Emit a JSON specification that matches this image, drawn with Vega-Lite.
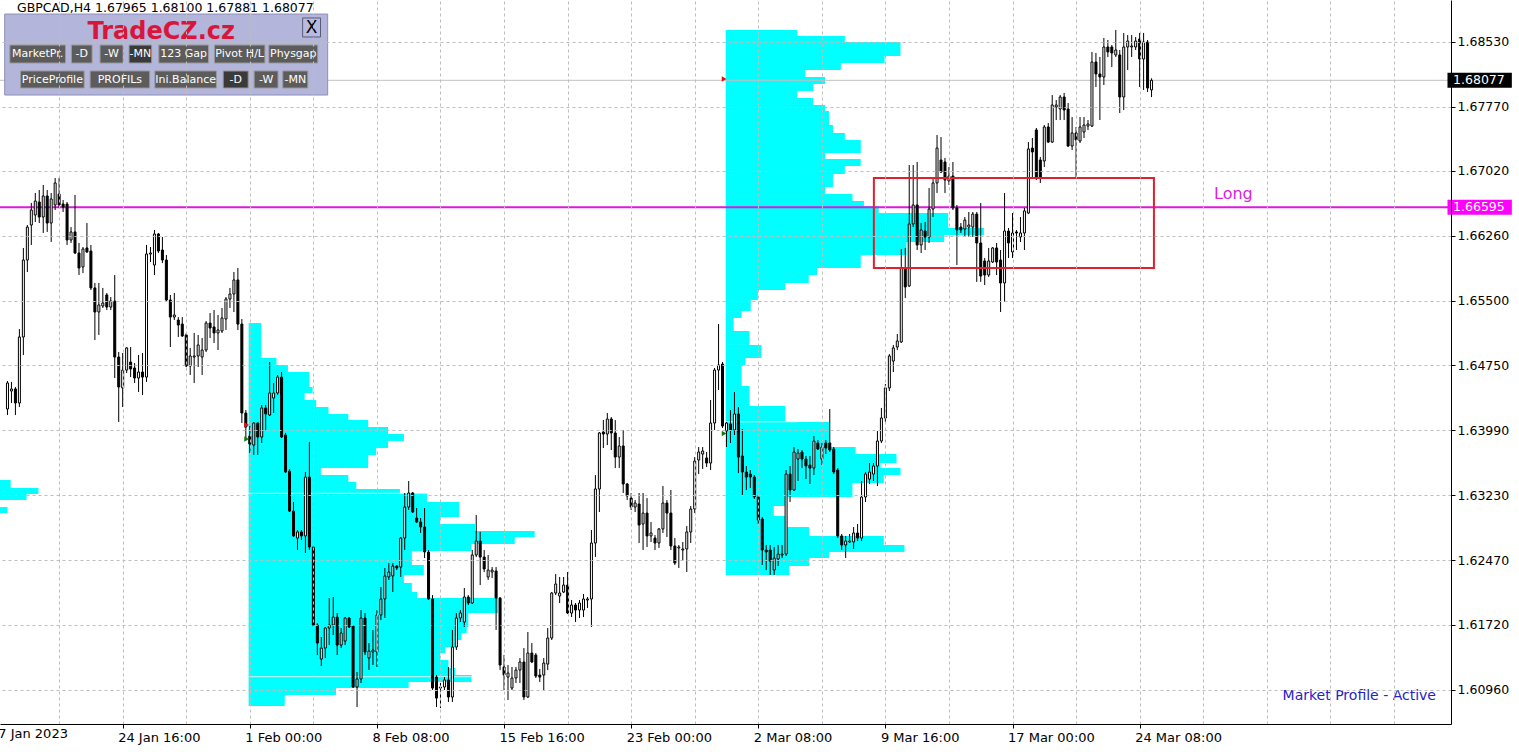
{
"$schema":"https://vega.github.io/schema/vega-lite/v6.json",
"width":1451,"height":724,
"autosize":{"type":"none"},
"padding":{"left":0,"top":0,"right":68,"bottom":30},
"background":"white",
"config":{"view":{"stroke":null},"font":"DejaVu Sans"},
"datasets":{
"candles":[
{"i":0,"o":1.64238,"h":1.64565,"l":1.64168,"c":1.64542},{"i":1,"o":1.64448,"h":1.64554,"l":1.64308,"c":1.64472},{"i":2,"o":1.64472,"h":1.64495,"l":1.64168,"c":1.64308},{"i":3,"o":1.64308,"h":1.65172,"l":1.64261,"c":1.65079},{"i":4,"o":1.65079,"h":1.66119,"l":1.64869,"c":1.65978},{"i":5,"o":1.65978,"h":1.66387,"l":1.65838,"c":1.66363},{"i":6,"o":1.66387,"h":1.66644,"l":1.66154,"c":1.66562},{"i":7,"o":1.66504,"h":1.66761,"l":1.66422,"c":1.66667},{"i":8,"o":1.66656,"h":1.66796,"l":1.6641,"c":1.6648},{"i":9,"o":1.6648,"h":1.66855,"l":1.66294,"c":1.66726},
{"i":10,"o":1.66726,"h":1.66796,"l":1.66306,"c":1.6641},{"i":11,"o":1.6641,"h":1.66761,"l":1.66189,"c":1.66691},{"i":12,"o":1.66621,"h":1.66936,"l":1.66562,"c":1.66878},{"i":13,"o":1.66749,"h":1.66936,"l":1.66586,"c":1.66621},{"i":14,"o":1.66632,"h":1.66679,"l":1.66539,"c":1.66597},{"i":15,"o":1.66632,"h":1.66656,"l":1.66154,"c":1.66212},{"i":16,"o":1.66212,"h":1.66363,"l":1.66177,"c":1.66306},{"i":17,"o":1.66306,"h":1.66738,"l":1.66048,"c":1.6606},{"i":18,"o":1.6606,"h":1.66177,"l":1.65803,"c":1.65885},{"i":19,"o":1.65897,"h":1.6613,"l":1.65826,"c":1.66107},
{"i":20,"o":1.66119,"h":1.6641,"l":1.6606,"c":1.66072},{"i":21,"o":1.66083,"h":1.66154,"l":1.65628,"c":1.65652},{"i":22,"o":1.65652,"h":1.6571,"l":1.65044,"c":1.65371},{"i":23,"o":1.65371,"h":1.6571,"l":1.65103,"c":1.65453},{"i":24,"o":1.65441,"h":1.65652,"l":1.65418,"c":1.65476},{"i":25,"o":1.6557,"h":1.65593,"l":1.65394,"c":1.65429},{"i":26,"o":1.65429,"h":1.65546,"l":1.65394,"c":1.65499},{"i":27,"o":1.65499,"h":1.65803,"l":1.646,"c":1.64845},{"i":28,"o":1.64845,"h":1.64904,"l":1.64086,"c":1.64495},{"i":29,"o":1.64484,"h":1.64892,"l":1.64261,"c":1.64693},
{"i":30,"o":1.64693,"h":1.64962,"l":1.64658,"c":1.64951},{"i":31,"o":1.64787,"h":1.64962,"l":1.64611,"c":1.64705},{"i":32,"o":1.64717,"h":1.64775,"l":1.64542,"c":1.646},{"i":33,"o":1.646,"h":1.64869,"l":1.64437,"c":1.6467},{"i":34,"o":1.6467,"h":1.64892,"l":1.64402,"c":1.64611},{"i":35,"o":1.64611,"h":1.66154,"l":1.64554,"c":1.66048},{"i":36,"o":1.66048,"h":1.6613,"l":1.65955,"c":1.6606},{"i":37,"o":1.6592,"h":1.66329,"l":1.65803,"c":1.66282},{"i":38,"o":1.66282,"h":1.66294,"l":1.6606,"c":1.66083},{"i":39,"o":1.66095,"h":1.66247,"l":1.65943,"c":1.65978},
{"i":40,"o":1.65978,"h":1.66037,"l":1.65488,"c":1.65511},{"i":41,"o":1.65511,"h":1.6557,"l":1.64962,"c":1.65312},{"i":42,"o":1.65312,"h":1.65593,"l":1.65277,"c":1.65336},{"i":43,"o":1.65277,"h":1.65312,"l":1.65079,"c":1.65219},{"i":44,"o":1.6523,"h":1.65312,"l":1.65079,"c":1.65091},{"i":45,"o":1.65103,"h":1.65126,"l":1.64728,"c":1.6474},{"i":46,"o":1.6474,"h":1.64951,"l":1.64635,"c":1.64857},{"i":47,"o":1.64845,"h":1.65126,"l":1.64542,"c":1.64857},{"i":48,"o":1.64857,"h":1.65103,"l":1.64728,"c":1.64986},{"i":49,"o":1.64845,"h":1.65067,"l":1.64635,"c":1.64927},
{"i":50,"o":1.64927,"h":1.65265,"l":1.64904,"c":1.65242},{"i":51,"o":1.65242,"h":1.65359,"l":1.65067,"c":1.65184},{"i":52,"o":1.65196,"h":1.65394,"l":1.65009,"c":1.65126},{"i":53,"o":1.65126,"h":1.65336,"l":1.64927,"c":1.65161},{"i":54,"o":1.65149,"h":1.65418,"l":1.65126,"c":1.65301},{"i":55,"o":1.65289,"h":1.65546,"l":1.65161,"c":1.65523},{"i":56,"o":1.65523,"h":1.65652,"l":1.65418,"c":1.65581},{"i":57,"o":1.65581,"h":1.65838,"l":1.65371,"c":1.65745},{"i":58,"o":1.65745,"h":1.65885,"l":1.65161,"c":1.6523},{"i":59,"o":1.6523,"h":1.65289,"l":1.64074,"c":1.64191},
{"i":60,"o":1.64191,"h":1.64226,"l":1.63876,"c":1.64028},{"i":61,"o":1.63923,"h":1.64039,"l":1.63724,"c":1.63829},{"i":62,"o":1.63817,"h":1.64086,"l":1.63701,"c":1.64074},{"i":63,"o":1.64074,"h":1.64086,"l":1.63701,"c":1.63911},{"i":64,"o":1.63911,"h":1.64285,"l":1.63841,"c":1.6425},{"i":65,"o":1.6425,"h":1.64285,"l":1.63993,"c":1.6418},{"i":66,"o":1.64168,"h":1.64787,"l":1.64156,"c":1.64425},{"i":67,"o":1.64366,"h":1.64542,"l":1.64191,"c":1.64425},{"i":68,"o":1.64425,"h":1.64635,"l":1.64402,"c":1.64611},{"i":69,"o":1.64611,"h":1.6467,"l":1.63899,"c":1.63911},
{"i":70,"o":1.63934,"h":1.63958,"l":1.6349,"c":1.63502},{"i":71,"o":1.63513,"h":1.63537,"l":1.63035,"c":1.63046},{"i":72,"o":1.63046,"h":1.63152,"l":1.62743,"c":1.62755},{"i":73,"o":1.62731,"h":1.62825,"l":1.62591,"c":1.62802},{"i":74,"o":1.62802,"h":1.62825,"l":1.62708,"c":1.62755},{"i":75,"o":1.62755,"h":1.63502,"l":1.62556,"c":1.63443},{"i":76,"o":1.63443,"h":1.63852,"l":1.62591,"c":1.62626},{"i":77,"o":1.62626,"h":1.62626,"l":1.61692,"c":1.61715},{"i":78,"o":1.61715,"h":1.61738,"l":1.61364,"c":1.61505},{"i":79,"o":1.61318,"h":1.61575,"l":1.61236,"c":1.61446},
{"i":80,"o":1.61446,"h":1.61692,"l":1.61329,"c":1.6168},{"i":81,"o":1.6168,"h":1.6203,"l":1.61481,"c":1.61715},{"i":82,"o":1.61715,"h":1.62042,"l":1.61598,"c":1.61808},{"i":83,"o":1.61808,"h":1.61855,"l":1.61364,"c":1.61481},{"i":84,"o":1.61481,"h":1.6168,"l":1.61446,"c":1.61622},{"i":85,"o":1.61528,"h":1.61808,"l":1.61481,"c":1.61797},{"i":86,"o":1.61797,"h":1.61808,"l":1.6168,"c":1.61692},{"i":87,"o":1.61703,"h":1.61715,"l":1.60979,"c":1.60991},{"i":88,"o":1.60991,"h":1.61166,"l":1.60757,"c":1.61084},{"i":89,"o":1.61084,"h":1.6189,"l":1.61038,"c":1.61797},
{"i":90,"o":1.61797,"h":1.61855,"l":1.61364,"c":1.614},{"i":91,"o":1.61329,"h":1.61505,"l":1.61189,"c":1.61411},{"i":92,"o":1.614,"h":1.61657,"l":1.61248,"c":1.61423},{"i":93,"o":1.614,"h":1.6189,"l":1.61225,"c":1.61832},{"i":94,"o":1.61832,"h":1.62159,"l":1.61773,"c":1.62019},{"i":95,"o":1.62019,"h":1.62381,"l":1.61797,"c":1.62288},{"i":96,"o":1.62276,"h":1.62439,"l":1.62241,"c":1.62334},{"i":97,"o":1.62288,"h":1.62439,"l":1.621,"c":1.62404},{"i":98,"o":1.62404,"h":1.62416,"l":1.62357,"c":1.62381},{"i":99,"o":1.62392,"h":1.62743,"l":1.62276,"c":1.62731},
{"i":100,"o":1.62731,"h":1.63257,"l":1.62591,"c":1.63093},{"i":101,"o":1.63093,"h":1.63397,"l":1.63058,"c":1.63257},{"i":102,"o":1.63257,"h":1.63269,"l":1.63023,"c":1.63035},{"i":103,"o":1.62965,"h":1.63082,"l":1.62906,"c":1.62918},{"i":104,"o":1.62918,"h":1.62965,"l":1.6279,"c":1.6286},{"i":105,"o":1.6286,"h":1.63082,"l":1.62497,"c":1.62568},{"i":106,"o":1.62568,"h":1.62591,"l":1.62007,"c":1.62019},{"i":107,"o":1.62019,"h":1.62065,"l":1.60956,"c":1.60979},{"i":108,"o":1.61107,"h":1.61131,"l":1.60757,"c":1.60862},{"i":109,"o":1.60979,"h":1.61038,"l":1.60745,"c":1.60991},
{"i":110,"o":1.60991,"h":1.61107,"l":1.60956,"c":1.61073},{"i":111,"o":1.61073,"h":1.61225,"l":1.60816,"c":1.60874},{"i":112,"o":1.60874,"h":1.61657,"l":1.60816,"c":1.61458},{"i":113,"o":1.61458,"h":1.61855,"l":1.61423,"c":1.61797},{"i":114,"o":1.61797,"h":1.6189,"l":1.6175,"c":1.61855},{"i":115,"o":1.6175,"h":1.62147,"l":1.61692,"c":1.62042},{"i":116,"o":1.62042,"h":1.62065,"l":1.61949,"c":1.61972},{"i":117,"o":1.61972,"h":1.62591,"l":1.6196,"c":1.62533},{"i":118,"o":1.62533,"h":1.63,"l":1.62509,"c":1.62696},{"i":119,"o":1.62696,"h":1.62802,"l":1.62182,"c":1.62509},
{"i":120,"o":1.62509,"h":1.62591,"l":1.62334,"c":1.62369},{"i":121,"o":1.62276,"h":1.62533,"l":1.62241,"c":1.62357},{"i":122,"o":1.62334,"h":1.62392,"l":1.62264,"c":1.62357},{"i":123,"o":1.62346,"h":1.62392,"l":1.61657,"c":1.6203},{"i":124,"o":1.6203,"h":1.62042,"l":1.61189,"c":1.61248},{"i":125,"o":1.61225,"h":1.61364,"l":1.60956,"c":1.61131},{"i":126,"o":1.61107,"h":1.61248,"l":1.60839,"c":1.61154},{"i":127,"o":1.60979,"h":1.61225,"l":1.60956,"c":1.61096},{"i":128,"o":1.61096,"h":1.61225,"l":1.61038,"c":1.61189},{"i":129,"o":1.61189,"h":1.61329,"l":1.61038,"c":1.61283},
{"i":130,"o":1.61283,"h":1.61446,"l":1.60839,"c":1.60874},{"i":131,"o":1.60874,"h":1.61633,"l":1.60862,"c":1.61388},{"i":132,"o":1.61388,"h":1.61505,"l":1.61271,"c":1.61283},{"i":133,"o":1.61364,"h":1.61388,"l":1.61096,"c":1.61119},{"i":134,"o":1.61131,"h":1.61201,"l":1.61049,"c":1.61107},{"i":135,"o":1.61131,"h":1.61329,"l":1.60956,"c":1.61271},{"i":136,"o":1.61259,"h":1.6168,"l":1.61189,"c":1.61563},{"i":137,"o":1.61563,"h":1.621,"l":1.6154,"c":1.62089},{"i":138,"o":1.62089,"h":1.62311,"l":1.62065,"c":1.62194},{"i":139,"o":1.62054,"h":1.62276,"l":1.61972,"c":1.62089},
{"i":140,"o":1.621,"h":1.62276,"l":1.62089,"c":1.62182},{"i":141,"o":1.62182,"h":1.62334,"l":1.61843,"c":1.61855},{"i":142,"o":1.61855,"h":1.62007,"l":1.61808,"c":1.61949},{"i":143,"o":1.61949,"h":1.61972,"l":1.6175,"c":1.6189},{"i":144,"o":1.6189,"h":1.62007,"l":1.61797,"c":1.61972},{"i":145,"o":1.6189,"h":1.62077,"l":1.61808,"c":1.62019},{"i":146,"o":1.62007,"h":1.62042,"l":1.61914,"c":1.62019},{"i":147,"o":1.62019,"h":1.62825,"l":1.61692,"c":1.62673},{"i":148,"o":1.62673,"h":1.63467,"l":1.62509,"c":1.63304},{"i":149,"o":1.63304,"h":1.63969,"l":1.63035,"c":1.63958},
{"i":150,"o":1.63969,"h":1.64109,"l":1.63782,"c":1.63946},{"i":151,"o":1.63946,"h":1.64191,"l":1.63817,"c":1.64121},{"i":152,"o":1.64121,"h":1.64144,"l":1.63759,"c":1.63958},{"i":153,"o":1.63958,"h":1.64109,"l":1.63548,"c":1.63677},{"i":154,"o":1.63677,"h":1.63911,"l":1.63548,"c":1.63806},{"i":155,"o":1.63806,"h":1.63993,"l":1.63257,"c":1.63362},{"i":156,"o":1.63362,"h":1.63374,"l":1.63175,"c":1.63222},{"i":157,"o":1.63198,"h":1.63257,"l":1.63058,"c":1.63093},{"i":158,"o":1.63093,"h":1.63175,"l":1.63035,"c":1.6314},{"i":159,"o":1.63128,"h":1.63257,"l":1.62673,"c":1.62883},
{"i":160,"o":1.62895,"h":1.63257,"l":1.62591,"c":1.63023},{"i":161,"o":1.63023,"h":1.63198,"l":1.62626,"c":1.62755},{"i":162,"o":1.62755,"h":1.62918,"l":1.62685,"c":1.6279},{"i":163,"o":1.62731,"h":1.62766,"l":1.62591,"c":1.62673},{"i":164,"o":1.62673,"h":1.62848,"l":1.62615,"c":1.62837},{"i":165,"o":1.62837,"h":1.63339,"l":1.6279,"c":1.6314},{"i":166,"o":1.6314,"h":1.63175,"l":1.62743,"c":1.63023},{"i":167,"o":1.63023,"h":1.63292,"l":1.62591,"c":1.62638},{"i":168,"o":1.62638,"h":1.62731,"l":1.62416,"c":1.62439},{"i":169,"o":1.62615,"h":1.6265,"l":1.62381,"c":1.62626},
{"i":170,"o":1.62591,"h":1.62685,"l":1.62474,"c":1.62603},{"i":171,"o":1.62603,"h":1.62871,"l":1.62334,"c":1.62802},{"i":172,"o":1.62802,"h":1.63105,"l":1.62673,"c":1.6307},{"i":173,"o":1.6307,"h":1.63677,"l":1.63023,"c":1.6363},{"i":174,"o":1.63642,"h":1.63794,"l":1.63478,"c":1.63736},{"i":175,"o":1.63712,"h":1.63794,"l":1.63537,"c":1.63747},{"i":176,"o":1.63666,"h":1.63736,"l":1.6356,"c":1.63607},{"i":177,"o":1.63607,"h":1.64343,"l":1.63525,"c":1.64074},{"i":178,"o":1.64074,"h":1.64717,"l":1.63993,"c":1.64693},{"i":179,"o":1.64693,"h":1.6523,"l":1.6446,"c":1.64752},
{"i":180,"o":1.64763,"h":1.64787,"l":1.64016,"c":1.64039},{"i":181,"o":1.63981,"h":1.64086,"l":1.63794,"c":1.64074},{"i":182,"o":1.64063,"h":1.64226,"l":1.63841,"c":1.63993},{"i":183,"o":1.63993,"h":1.64437,"l":1.63934,"c":1.6418},{"i":184,"o":1.6418,"h":1.64261,"l":1.6349,"c":1.63677},{"i":185,"o":1.63689,"h":1.64004,"l":1.63233,"c":1.63502},{"i":186,"o":1.63502,"h":1.63572,"l":1.63292,"c":1.63443},{"i":187,"o":1.63478,"h":1.63525,"l":1.63315,"c":1.63443},{"i":188,"o":1.63443,"h":1.63467,"l":1.63187,"c":1.6321},{"i":189,"o":1.6321,"h":1.63233,"l":1.62895,"c":1.62941},
{"i":190,"o":1.62953,"h":1.62976,"l":1.62416,"c":1.62591},{"i":191,"o":1.62591,"h":1.6265,"l":1.62357,"c":1.62568},{"i":192,"o":1.62591,"h":1.6265,"l":1.62299,"c":1.62462},{"i":193,"o":1.62357,"h":1.62626,"l":1.62299,"c":1.62497},{"i":194,"o":1.62486,"h":1.6265,"l":1.62404,"c":1.62544},{"i":195,"o":1.62533,"h":1.6265,"l":1.62497,"c":1.62544},{"i":196,"o":1.62544,"h":1.63525,"l":1.62521,"c":1.63478},{"i":197,"o":1.63478,"h":1.63572,"l":1.63152,"c":1.63292},{"i":198,"o":1.63292,"h":1.63794,"l":1.6328,"c":1.63736},{"i":199,"o":1.63654,"h":1.63771,"l":1.63397,"c":1.63724},
{"i":200,"o":1.63736,"h":1.63759,"l":1.63548,"c":1.63654},{"i":201,"o":1.63654,"h":1.63689,"l":1.6342,"c":1.63572},{"i":202,"o":1.63584,"h":1.63689,"l":1.63362,"c":1.63548},{"i":203,"o":1.63548,"h":1.63923,"l":1.63467,"c":1.63864},{"i":204,"o":1.63841,"h":1.63876,"l":1.63759,"c":1.63771},{"i":205,"o":1.63654,"h":1.63841,"l":1.63584,"c":1.63794},{"i":206,"o":1.63841,"h":1.63876,"l":1.63712,"c":1.63782},{"i":207,"o":1.63841,"h":1.64238,"l":1.63736,"c":1.63759},{"i":208,"o":1.63771,"h":1.63794,"l":1.63478,"c":1.63502},{"i":209,"o":1.63525,"h":1.63548,"l":1.62731,"c":1.62755},
{"i":210,"o":1.62755,"h":1.62778,"l":1.62591,"c":1.6265},{"i":211,"o":1.6265,"h":1.62755,"l":1.62497,"c":1.62696},{"i":212,"o":1.62685,"h":1.62778,"l":1.62673,"c":1.62696},{"i":213,"o":1.62685,"h":1.6286,"l":1.62603,"c":1.6279},{"i":214,"o":1.6279,"h":1.62895,"l":1.62696,"c":1.62731},{"i":215,"o":1.62731,"h":1.63397,"l":1.62696,"c":1.6321},{"i":216,"o":1.6321,"h":1.63502,"l":1.63152,"c":1.63478},{"i":217,"o":1.6342,"h":1.63607,"l":1.63362,"c":1.63502},{"i":218,"o":1.63478,"h":1.63607,"l":1.63397,"c":1.63572},{"i":219,"o":1.63572,"h":1.63981,"l":1.63339,"c":1.63864},
{"i":220,"o":1.63864,"h":1.6425,"l":1.63841,"c":1.64133},{"i":221,"o":1.64133,"h":1.6453,"l":1.64086,"c":1.64484},{"i":222,"o":1.64484,"h":1.6488,"l":1.64448,"c":1.64857},{"i":223,"o":1.64798,"h":1.64986,"l":1.6467,"c":1.64951},{"i":224,"o":1.64962,"h":1.65114,"l":1.64927,"c":1.65032},{"i":225,"o":1.65021,"h":1.66107,"l":1.65009,"c":1.65885},{"i":226,"o":1.65885,"h":1.66119,"l":1.65534,"c":1.65663},{"i":227,"o":1.65675,"h":1.67088,"l":1.65663,"c":1.66399},{"i":228,"o":1.66399,"h":1.67088,"l":1.66363,"c":1.66621},{"i":229,"o":1.66621,"h":1.67123,"l":1.66095,"c":1.66154},
{"i":230,"o":1.66154,"h":1.6641,"l":1.6606,"c":1.66329},{"i":231,"o":1.66317,"h":1.66422,"l":1.66095,"c":1.66247},{"i":232,"o":1.66247,"h":1.66819,"l":1.66177,"c":1.66574},{"i":233,"o":1.66574,"h":1.66936,"l":1.6648,"c":1.66878},{"i":234,"o":1.66878,"h":1.67438,"l":1.66761,"c":1.67286},{"i":235,"o":1.67146,"h":1.67415,"l":1.66994,"c":1.67006},{"i":236,"o":1.67123,"h":1.6717,"l":1.66761,"c":1.66913},{"i":237,"o":1.66901,"h":1.67064,"l":1.66855,"c":1.66959},{"i":238,"o":1.66959,"h":1.67123,"l":1.66562,"c":1.66586},{"i":239,"o":1.66586,"h":1.66621,"l":1.6592,"c":1.66329},
{"i":240,"o":1.66363,"h":1.6641,"l":1.66294,"c":1.66329},{"i":241,"o":1.6634,"h":1.6648,"l":1.66247,"c":1.66445},{"i":242,"o":1.66363,"h":1.66539,"l":1.66247,"c":1.66387},{"i":243,"o":1.66363,"h":1.66539,"l":1.66247,"c":1.66515},{"i":244,"o":1.66515,"h":1.66539,"l":1.65722,"c":1.66177},{"i":245,"o":1.66177,"h":1.66644,"l":1.65722,"c":1.65791},{"i":246,"o":1.65967,"h":1.66002,"l":1.65686,"c":1.65803},{"i":247,"o":1.65803,"h":1.66119,"l":1.6578,"c":1.65967},{"i":248,"o":1.65955,"h":1.6613,"l":1.65943,"c":1.66119},{"i":249,"o":1.66119,"h":1.66177,"l":1.65803,"c":1.65955},
{"i":250,"o":1.65978,"h":1.66095,"l":1.65371,"c":1.6571},{"i":251,"o":1.6571,"h":1.66761,"l":1.65488,"c":1.66317},{"i":252,"o":1.66317,"h":1.66352,"l":1.66002,"c":1.66177},{"i":253,"o":1.66072,"h":1.66527,"l":1.66002,"c":1.66294},{"i":254,"o":1.66306,"h":1.66329,"l":1.66095,"c":1.66294},{"i":255,"o":1.66247,"h":1.6648,"l":1.66189,"c":1.66294},{"i":256,"o":1.66294,"h":1.66586,"l":1.66095,"c":1.66551},{"i":257,"o":1.66527,"h":1.67356,"l":1.66515,"c":1.67275},{"i":258,"o":1.67286,"h":1.67403,"l":1.66948,"c":1.6724},{"i":259,"o":1.67497,"h":1.6752,"l":1.66913,"c":1.66948},
{"i":260,"o":1.67146,"h":1.67181,"l":1.66878,"c":1.66948},{"i":261,"o":1.67135,"h":1.67555,"l":1.67064,"c":1.67532},{"i":262,"o":1.67532,"h":1.67578,"l":1.67345,"c":1.67356},{"i":263,"o":1.67356,"h":1.67905,"l":1.67345,"c":1.67789},{"i":264,"o":1.67765,"h":1.67847,"l":1.67613,"c":1.67789},{"i":265,"o":1.67742,"h":1.67905,"l":1.67613,"c":1.67882},{"i":266,"o":1.67882,"h":1.67929,"l":1.67613,"c":1.6773},{"i":267,"o":1.67742,"h":1.67812,"l":1.67298,"c":1.6731},{"i":268,"o":1.6731,"h":1.67648,"l":1.67263,"c":1.67462},{"i":269,"o":1.67462,"h":1.67532,"l":1.66948,"c":1.6738},
{"i":270,"o":1.67368,"h":1.67648,"l":1.67345,"c":1.67532},{"i":271,"o":1.67473,"h":1.67648,"l":1.67403,"c":1.67555},{"i":272,"o":1.67543,"h":1.67613,"l":1.67497,"c":1.67567},{"i":273,"o":1.67543,"h":1.68408,"l":1.67532,"c":1.68291},{"i":274,"o":1.68291,"h":1.68396,"l":1.67999,"c":1.68151},{"i":275,"o":1.68151,"h":1.68349,"l":1.67613,"c":1.68116},{"i":276,"o":1.68116,"h":1.68571,"l":1.68022,"c":1.68466},{"i":277,"o":1.68466,"h":1.68548,"l":1.68349,"c":1.68408},{"i":278,"o":1.68466,"h":1.68489,"l":1.68232,"c":1.68396},{"i":279,"o":1.68373,"h":1.68665,"l":1.68349,"c":1.68431},
{"i":280,"o":1.68373,"h":1.68431,"l":1.67695,"c":1.67882},{"i":281,"o":1.67882,"h":1.6863,"l":1.6773,"c":1.68466},{"i":282,"o":1.68466,"h":1.68606,"l":1.68197,"c":1.68536},{"i":283,"o":1.68466,"h":1.68606,"l":1.68349,"c":1.68478},{"i":284,"o":1.68466,"h":1.68583,"l":1.68431,"c":1.68536},{"i":285,"o":1.6856,"h":1.6863,"l":1.67999,"c":1.68326},{"i":286,"o":1.68326,"h":1.6863,"l":1.67964,"c":1.68524},{"i":287,"o":1.68524,"h":1.68548,"l":1.6794,"c":1.67987},{"i":288,"o":1.67965,"h":1.681,"l":1.67881,"c":1.68077}
],
"profiles":[
{"s":-3,"e":0.8,"lo":1.63315,"hi":1.63409},{"s":-3,"e":7.8,"lo":1.63245,"hi":1.63315},{"s":-3,"e":4.8,"lo":1.63175,"hi":1.63245},{"s":-3,"e":0,"lo":1.63023,"hi":1.63093},
{"s":60.7,"e":63.9,"lo":1.64834,"hi":1.65242},{"s":60.7,"e":67.7,"lo":1.64752,"hi":1.64834},{"s":60.7,"e":70.6,"lo":1.6467,"hi":1.64752},{"s":60.7,"e":76.0,"lo":1.64495,"hi":1.6467},{"s":60.7,"e":76.8,"lo":1.64425,"hi":1.64495},{"s":60.7,"e":74.8,"lo":1.64343,"hi":1.64425},{"s":60.7,"e":77.7,"lo":1.64261,"hi":1.64343},{"s":60.7,"e":80.8,"lo":1.6418,"hi":1.64261},{"s":60.7,"e":85.8,"lo":1.64109,"hi":1.6418},{"s":60.7,"e":90.8,"lo":1.64028,"hi":1.64109},{"s":60.7,"e":95.8,"lo":1.63946,"hi":1.64028},{"s":60.7,"e":99.8,"lo":1.63864,"hi":1.63946},{"s":60.7,"e":95.8,"lo":1.63782,"hi":1.63864},{"s":60.7,"e":92.8,"lo":1.63701,"hi":1.63782},{"s":60.7,"e":90.8,"lo":1.63548,"hi":1.63701},{"s":60.7,"e":78.9,"lo":1.63467,"hi":1.63548},{"s":60.7,"e":85.8,"lo":1.63385,"hi":1.63467},{"s":60.7,"e":87.8,"lo":1.63304,"hi":1.63385},{"s":60.7,"e":98.8,"lo":1.63257,"hi":1.63304},{"s":60.7,"e":105.6,"lo":1.63152,"hi":1.63257},{"s":60.7,"e":113.7,"lo":1.62976,"hi":1.63152},{"s":60.7,"e":108.9,"lo":1.62895,"hi":1.62976},{"s":60.7,"e":117.7,"lo":1.62813,"hi":1.62895},{"s":60.7,"e":132.7,"lo":1.62743,"hi":1.62813},{"s":60.7,"e":127.7,"lo":1.62661,"hi":1.62743},{"s":60.7,"e":116.8,"lo":1.62579,"hi":1.62661},{"s":60.7,"e":101.8,"lo":1.62416,"hi":1.62579},{"s":60.7,"e":104.8,"lo":1.62299,"hi":1.62416},{"s":60.7,"e":99.8,"lo":1.62206,"hi":1.62299},{"s":60.7,"e":101.8,"lo":1.621,"hi":1.62206},{"s":60.7,"e":103.1,"lo":1.6203,"hi":1.621},{"s":60.7,"e":123.5,"lo":1.61855,"hi":1.6203},{"s":60.7,"e":116.0,"lo":1.61692,"hi":1.61855},{"s":60.7,"e":115.6,"lo":1.61622,"hi":1.61692},{"s":60.7,"e":114.3,"lo":1.6154,"hi":1.61622},{"s":60.7,"e":112.7,"lo":1.61458,"hi":1.6154},{"s":60.7,"e":110.2,"lo":1.61388,"hi":1.61458},{"s":60.7,"e":108.9,"lo":1.61306,"hi":1.61388},{"s":60.7,"e":111.0,"lo":1.61213,"hi":1.61306},{"s":60.7,"e":112.7,"lo":1.61131,"hi":1.61213},{"s":60.7,"e":116.8,"lo":1.61049,"hi":1.61131},{"s":60.7,"e":101.0,"lo":1.60979,"hi":1.61049},{"s":60.7,"e":82.7,"lo":1.60897,"hi":1.60979},{"s":60.7,"e":69.8,"lo":1.60769,"hi":1.60897},
{"s":180.8,"e":198.8,"lo":1.68595,"hi":1.68665},{"s":180.8,"e":210.8,"lo":1.68524,"hi":1.68595},{"s":180.8,"e":224.8,"lo":1.68361,"hi":1.68524},{"s":180.8,"e":220.8,"lo":1.68279,"hi":1.68361},{"s":180.8,"e":209.8,"lo":1.68197,"hi":1.68279},{"s":180.8,"e":200.8,"lo":1.68116,"hi":1.68197},{"s":180.8,"e":205.8,"lo":1.68034,"hi":1.68116},{"s":180.8,"e":202.8,"lo":1.67952,"hi":1.68034},{"s":180.8,"e":198.8,"lo":1.6787,"hi":1.67952},{"s":180.8,"e":202.8,"lo":1.67789,"hi":1.6787},{"s":180.8,"e":205.8,"lo":1.67719,"hi":1.67789},{"s":180.8,"e":206.8,"lo":1.67555,"hi":1.67719},{"s":180.8,"e":207.8,"lo":1.67462,"hi":1.67555},{"s":180.8,"e":210.8,"lo":1.6738,"hi":1.67462},{"s":180.8,"e":214.8,"lo":1.67228,"hi":1.6738},{"s":180.8,"e":205.8,"lo":1.67158,"hi":1.67228},{"s":180.8,"e":214.8,"lo":1.67076,"hi":1.67158},{"s":180.8,"e":210.8,"lo":1.66983,"hi":1.67076},{"s":180.8,"e":207.8,"lo":1.66831,"hi":1.66983},{"s":180.8,"e":205.8,"lo":1.66749,"hi":1.66831},{"s":180.8,"e":212.7,"lo":1.66667,"hi":1.66749},{"s":180.8,"e":215.6,"lo":1.66609,"hi":1.66667},{"s":180.8,"e":219.3,"lo":1.66527,"hi":1.66609},{"s":180.8,"e":236.8,"lo":1.66352,"hi":1.66527},{"s":180.8,"e":245.8,"lo":1.6627,"hi":1.66352},{"s":180.8,"e":235.8,"lo":1.66189,"hi":1.6627},{"s":180.8,"e":226.3,"lo":1.66037,"hi":1.66189},{"s":180.8,"e":214.8,"lo":1.65885,"hi":1.66037},{"s":180.8,"e":203.8,"lo":1.65803,"hi":1.65885},{"s":180.8,"e":201.7,"lo":1.6571,"hi":1.65803},{"s":180.8,"e":195.8,"lo":1.65628,"hi":1.6571},{"s":180.8,"e":188.9,"lo":1.65511,"hi":1.65628},{"s":180.8,"e":187.1,"lo":1.65382,"hi":1.65511},{"s":180.8,"e":184.8,"lo":1.65301,"hi":1.65382},{"s":180.8,"e":182.8,"lo":1.65149,"hi":1.65301},{"s":180.8,"e":186.8,"lo":1.64986,"hi":1.65149},{"s":180.8,"e":189.8,"lo":1.64834,"hi":1.64986},{"s":180.8,"e":185.8,"lo":1.64752,"hi":1.64834},{"s":180.8,"e":184.8,"lo":1.64507,"hi":1.64752},{"s":180.8,"e":186.8,"lo":1.64273,"hi":1.64507},{"s":180.8,"e":195.8,"lo":1.64086,"hi":1.64273},{"s":180.8,"e":206.8,"lo":1.63794,"hi":1.64086},{"s":180.8,"e":213.5,"lo":1.63712,"hi":1.63794},{"s":180.8,"e":223.8,"lo":1.63607,"hi":1.63712},{"s":180.8,"e":219.8,"lo":1.63548,"hi":1.63607},{"s":180.8,"e":224.8,"lo":1.63467,"hi":1.63548},{"s":180.8,"e":220.6,"lo":1.63374,"hi":1.63467},{"s":180.8,"e":212.7,"lo":1.6321,"hi":1.63374},{"s":180.8,"e":196.0,"lo":1.63105,"hi":1.6321},{"s":180.8,"e":192.9,"lo":1.62988,"hi":1.63105},{"s":180.8,"e":196.3,"lo":1.6286,"hi":1.62988},{"s":180.8,"e":201.8,"lo":1.62755,"hi":1.6286},{"s":180.8,"e":220.6,"lo":1.6265,"hi":1.62755},{"s":180.8,"e":225.8,"lo":1.62568,"hi":1.6265},{"s":180.8,"e":206.8,"lo":1.62497,"hi":1.62568},{"s":180.8,"e":201.8,"lo":1.62404,"hi":1.62497},{"s":180.8,"e":196.8,"lo":1.62299,"hi":1.62404}
],
"vaLines":[{"s":60.7,"e":105.6,"p":1.63253},{"s":60.7,"e":116.8,"p":1.61111},{"s":180.8,"e":198.8,"p":1.64089}],
"levels":[{"name":"Long","level":1.66595},{"name":"Bid","level":1.68077}],
"zone":[{"i1":218.1,"i2":288.6,"top":1.66936,"bottom":1.65885}],
"arrows":[{"i":60.2,"p":1.64051,"kind":"sell"},{"i":60.2,"p":1.63888,"kind":"buy"},{"i":180.4,"p":1.68093,"kind":"sell"},{"i":180.4,"p":1.63951,"kind":"buy"}],
"notes":[{"i":308.6,"p":1.66749,"text":"Long"}],
"status":[{"i":359.6,"p":1.60886,"text":"Market Profile - Active"}],
"tags":[{"name":"Bid","level":1.68077,"lo":1.67989,"hi":1.68165,"text":"1.68077"},{"name":"Long","level":1.66595,"lo":1.66507,"hi":1.66683,"text":"1.66595"}],
"header":[{"i":2.4,"p":1.68922,"text":"GBPCAD,H4  1.67965 1.68100 1.67881 1.68077"}],
"panel":[{"x1":-0.7,"x2":80.6,"top":1.68851,"bottom":1.67905}],
"brand":[{"i":38.7,"p":1.68645,"text":"TradeCZ.cz"}],
"closeBtn":[{"x1":74.3,"x2":78.8,"top":1.68805,"bottom":1.68583,"cx":76.55,"cy":1.68688,"text":"X"}],
"buttons":[
{"label":"MarketPr.","x1":0.6,"x2":14.6,"cx":7.6,"top":1.68489,"bottom":1.68279,"cy":1.68384,"pressed":false},
{"label":"-D","x1":16.1,"x2":21.3,"cx":18.7,"top":1.68489,"bottom":1.68279,"cy":1.68384,"pressed":false},
{"label":"-W","x1":23.3,"x2":29.1,"cx":26.2,"top":1.68489,"bottom":1.68279,"cy":1.68384,"pressed":false},
{"label":"-MN","x1":30.6,"x2":36.3,"cx":33.45,"top":1.68489,"bottom":1.68279,"cy":1.68384,"pressed":true},
{"label":"123 Gap","x1":38.1,"x2":50.6,"cx":44.35,"top":1.68489,"bottom":1.68279,"cy":1.68384,"pressed":false},
{"label":"Pivot H/L","x1":52.1,"x2":64.8,"cx":58.45,"top":1.68489,"bottom":1.68279,"cy":1.68384,"pressed":false},
{"label":"Physgap","x1":65.8,"x2":78.1,"cx":71.95,"top":1.68489,"bottom":1.68279,"cy":1.68384,"pressed":false},
{"label":"PriceProfile","x1":3.3,"x2":19.3,"cx":11.3,"top":1.68186,"bottom":1.67987,"cy":1.68086,"pressed":false},
{"label":"PROFILs","x1":20.8,"x2":35.8,"cx":28.3,"top":1.68186,"bottom":1.67987,"cy":1.68086,"pressed":false},
{"label":"Ini.Balance","x1":37.1,"x2":52.6,"cx":44.85,"top":1.68186,"bottom":1.67987,"cy":1.68086,"pressed":false},
{"label":"-D","x1":54.3,"x2":60.6,"cx":57.45,"top":1.68186,"bottom":1.67987,"cy":1.68086,"pressed":true},
{"label":"-W","x1":62.1,"x2":68.1,"cx":65.1,"top":1.68186,"bottom":1.67987,"cy":1.68086,"pressed":false},
{"label":"-MN","x1":69.3,"x2":75.6,"cx":72.45,"top":1.68186,"bottom":1.67987,"cy":1.68086,"pressed":false}
]
},
"resolve":{"axis":{"x":"independent","y":"independent"}},
"layer":[
{"data":{"name":"profiles"},"mark":{"type":"rect","color":"#00ffff"},
 "encoding":{
  "x":{"field":"s","type":"quantitative","title":null,"scale":{"domain":[-0.625,362.125],"nice":false,"zero":false},
   "axis":{"orient":"top","values":[13,29,45,61,77,93,109,125,141,157,173,189,205,221,237,253,269,285,301,317,333,349],"grid":true,"gridDash":[3,3],"gridColor":"#bdbdbd","gridOpacity":1,"labels":false,"ticks":false,"domain":false,"zindex":1}},
  "x2":{"field":"e"},
  "y":{"field":"lo","type":"quantitative","title":null,"scale":{"domain":[1.60559,1.69015],"nice":false,"zero":false},
   "axis":{"orient":"right","values":[1.6853,1.6777,1.6702,1.6626,1.655,1.6475,1.6399,1.6323,1.6247,1.6172,1.6096],"format":".5f","grid":true,"gridDash":[3,3],"gridColor":"#bdbdbd","gridOpacity":1,"tickSize":4,"tickColor":"#000","domainColor":"#000","labelPadding":2,"labelFont":"DejaVu Sans","labelFontSize":12.5,"labelColor":"#000","labelOverlap":false,"labelBound":false,"labelFlush":false,"zindex":1}},
  "y2":{"field":"hi"}}},
{"data":{"name":"vaLines"},"mark":{"type":"rule","color":"#dff0f0","strokeWidth":1},
 "encoding":{"x":{"field":"s","type":"quantitative","title":null,"axis":null,"scale":{"domain":[-0.625,362.125],"nice":false,"zero":false}},"x2":{"field":"e"},
  "y":{"field":"p","type":"quantitative","title":null,"axis":null,"scale":{"domain":[1.60559,1.69015],"nice":false,"zero":false}}}},
{"data":{"name":"levels"},"transform":[{"filter":"datum.name == 'Bid'"}],"mark":{"type":"rule","color":"#c0c0c0","strokeWidth":1},
 "encoding":{"y":{"field":"level","type":"quantitative","title":null,"axis":null,"scale":{"domain":[1.60559,1.69015],"nice":false,"zero":false}}}},
{"data":{"name":"levels"},"transform":[{"filter":"datum.name == 'Long'"}],"mark":{"type":"rule","color":"#dd1add","strokeWidth":2},
 "encoding":{"y":{"field":"level","type":"quantitative","title":null,"axis":null,"scale":{"domain":[1.60559,1.69015],"nice":false,"zero":false}}}},
{"data":{"name":"candles"},"mark":{"type":"rule","color":"#000","strokeWidth":1},
 "encoding":{
  "x":{"field":"i","type":"quantitative","title":null,"scale":{"domain":[-0.625,362.125],"nice":false,"zero":false},
   "axis":{"orient":"bottom","values":[-0.5,29,61,93,125,157,189,221,253,285],"labelExpr":"datum.value < 0 ? '17 Jan 2023' : datum.value == 29 ? '24 Jan 16:00' : datum.value == 61 ? '1 Feb 00:00' : datum.value == 93 ? '8 Feb 08:00' : datum.value == 125 ? '15 Feb 16:00' : datum.value == 157 ? '23 Feb 00:00' : datum.value == 189 ? '2 Mar 08:00' : datum.value == 221 ? '9 Mar 16:00' : datum.value == 253 ? '17 Mar 00:00' : '24 Mar 08:00'","grid":false,"labelAlign":"left","labelPadding":3,"tickSize":{"condition":{"test":"datum.value < 0","value":0},"value":4},"labelOffset":{"condition":{"test":"datum.value < 0","value":-16},"value":-5},"tickColor":"#000","domainColor":"#000","labelFont":"DejaVu Sans","labelFontSize":13,"labelColor":"#000","labelOverlap":false,"labelBound":false,"labelFlush":false,"zindex":1}},
  "y":{"field":"l","type":"quantitative","title":null,"axis":null,"scale":{"domain":[1.60559,1.69015],"nice":false,"zero":false}},
  "y2":{"field":"h"}}},
{"data":{"name":"candles"},"mark":{"type":"bar","size":2,"stroke":"#000","strokeWidth":1,"orient":"vertical"},
 "encoding":{
  "x":{"field":"i","type":"quantitative","title":null,"axis":null,"scale":{"domain":[-0.625,362.125],"nice":false,"zero":false}},
  "y":{"field":"o","type":"quantitative","title":null,"axis":null,"scale":{"domain":[1.60559,1.69015],"nice":false,"zero":false}},
  "y2":{"field":"c"},
  "fill":{"condition":{"test":"datum.c >= datum.o","value":"#ffffff"},"value":"#000000"}}},
{"data":{"name":"zone"},"mark":{"type":"rect","fill":"transparent","stroke":"#e0202c","strokeWidth":2},
 "encoding":{"x":{"field":"i1","type":"quantitative","title":null,"axis":null,"scale":{"domain":[-0.625,362.125],"nice":false,"zero":false}},"x2":{"field":"i2"},
  "y":{"field":"top","type":"quantitative","title":null,"axis":null,"scale":{"domain":[1.60559,1.69015],"nice":false,"zero":false}},"y2":{"field":"bottom"}}},
{"data":{"name":"arrows"},"mark":{"type":"point","shape":"triangle-right","filled":true,"size":30,"opacity":1},
 "encoding":{"x":{"field":"i","type":"quantitative","title":null,"axis":null,"scale":{"domain":[-0.625,362.125],"nice":false,"zero":false}},
  "y":{"field":"p","type":"quantitative","title":null,"axis":null,"scale":{"domain":[1.60559,1.69015],"nice":false,"zero":false}},
  "color":{"field":"kind","type":"nominal","legend":null,"scale":{"domain":["sell","buy"],"range":["#e01010","#107a10"]}}}},
{"data":{"name":"notes"},"mark":{"type":"text","color":"#dd22dd","font":"DejaVu Sans","fontSize":16,"align":"center","baseline":"middle"},
 "encoding":{"x":{"field":"i","type":"quantitative","title":null,"axis":null,"scale":{"domain":[-0.625,362.125],"nice":false,"zero":false}},
  "y":{"field":"p","type":"quantitative","title":null,"axis":null,"scale":{"domain":[1.60559,1.69015],"nice":false,"zero":false}},"text":{"field":"text"}}},
{"data":{"name":"status"},"mark":{"type":"text","color":"#2323c8","font":"DejaVu Sans","fontSize":14,"align":"right","baseline":"middle"},
 "encoding":{"x":{"field":"i","type":"quantitative","title":null,"axis":null,"scale":{"domain":[-0.625,362.125],"nice":false,"zero":false}},
  "y":{"field":"p","type":"quantitative","title":null,"axis":null,"scale":{"domain":[1.60559,1.69015],"nice":false,"zero":false}},"text":{"field":"text"}}},
{"data":{"name":"tags"},"mark":{"type":"rect"},
 "encoding":{"x":{"datum":362.5,"type":"quantitative","title":null,"axis":null,"scale":{"domain":[-0.625,362.125],"nice":false,"zero":false}},"x2":{"datum":378.7},
  "y":{"field":"lo","type":"quantitative","title":null,"axis":null,"scale":{"domain":[1.60559,1.69015],"nice":false,"zero":false}},"y2":{"field":"hi"},
  "fill":{"field":"name","type":"nominal","legend":null,"scale":{"domain":["Bid","Long"],"range":["#000000","#ff00ff"]}}}},
{"data":{"name":"tags"},"mark":{"type":"text","color":"#ffffff","font":"DejaVu Sans","fontSize":12.5,"align":"left","baseline":"middle"},
 "encoding":{"x":{"datum":363.9,"type":"quantitative","title":null,"axis":null,"scale":{"domain":[-0.625,362.125],"nice":false,"zero":false}},
  "y":{"field":"level","type":"quantitative","title":null,"axis":null,"scale":{"domain":[1.60559,1.69015],"nice":false,"zero":false}},
  "text":{"field":"text"}}},
{"data":{"name":"panel"},"mark":{"type":"rect","fill":"#b4b5da","stroke":"#8e90b8","strokeWidth":1},
 "encoding":{"x":{"field":"x1","type":"quantitative","title":null,"axis":null,"scale":{"domain":[-0.625,362.125],"nice":false,"zero":false}},"x2":{"field":"x2"},
  "y":{"field":"top","type":"quantitative","title":null,"axis":null,"scale":{"domain":[1.60559,1.69015],"nice":false,"zero":false}},"y2":{"field":"bottom"}}},
{"data":{"name":"buttons"},"mark":{"type":"rect","stroke":"#9a9a9a","strokeWidth":1},
 "encoding":{"x":{"field":"x1","type":"quantitative","title":null,"axis":null,"scale":{"domain":[-0.625,362.125],"nice":false,"zero":false}},"x2":{"field":"x2"},
  "y":{"field":"top","type":"quantitative","title":null,"axis":null,"scale":{"domain":[1.60559,1.69015],"nice":false,"zero":false}},"y2":{"field":"bottom"},
  "fill":{"condition":{"test":"datum.pressed","value":"#3a3a3a"},"value":"#5c5c5c"}}},
{"data":{"name":"buttons"},"mark":{"type":"text","color":"#ffffff","font":"DejaVu Sans","fontSize":11,"align":"center","baseline":"middle"},
 "encoding":{"x":{"field":"cx","type":"quantitative","title":null,"axis":null,"scale":{"domain":[-0.625,362.125],"nice":false,"zero":false}},
  "y":{"field":"cy","type":"quantitative","title":null,"axis":null,"scale":{"domain":[1.60559,1.69015],"nice":false,"zero":false}},"text":{"field":"label"}}},
{"data":{"name":"brand"},"mark":{"type":"text","color":"#d8163c","font":"DejaVu Sans","fontSize":24,"fontWeight":"bold","align":"center","baseline":"middle"},
 "encoding":{"x":{"field":"i","type":"quantitative","title":null,"axis":null,"scale":{"domain":[-0.625,362.125],"nice":false,"zero":false}},
  "y":{"field":"p","type":"quantitative","title":null,"axis":null,"scale":{"domain":[1.60559,1.69015],"nice":false,"zero":false}},"text":{"field":"text"}}},
{"data":{"name":"closeBtn"},"mark":{"type":"rect","fill":"#b8badf","stroke":"#5a5a78","strokeWidth":1},
 "encoding":{"x":{"field":"x1","type":"quantitative","title":null,"axis":null,"scale":{"domain":[-0.625,362.125],"nice":false,"zero":false}},"x2":{"field":"x2"},
  "y":{"field":"top","type":"quantitative","title":null,"axis":null,"scale":{"domain":[1.60559,1.69015],"nice":false,"zero":false}},"y2":{"field":"bottom"}}},
{"data":{"name":"closeBtn"},"mark":{"type":"text","color":"#000000","font":"DejaVu Sans","fontSize":17,"align":"center","baseline":"middle"},
 "encoding":{"x":{"field":"cx","type":"quantitative","title":null,"axis":null,"scale":{"domain":[-0.625,362.125],"nice":false,"zero":false}},
  "y":{"field":"cy","type":"quantitative","title":null,"axis":null,"scale":{"domain":[1.60559,1.69015],"nice":false,"zero":false}},"text":{"field":"text"}}},
{"data":{"name":"header"},"mark":{"type":"text","color":"#000000","font":"DejaVu Sans","fontSize":12.5,"align":"left","baseline":"middle"},
 "encoding":{"x":{"field":"i","type":"quantitative","title":null,"axis":null,"scale":{"domain":[-0.625,362.125],"nice":false,"zero":false}},
  "y":{"field":"p","type":"quantitative","title":null,"axis":null,"scale":{"domain":[1.60559,1.69015],"nice":false,"zero":false}},"text":{"field":"text"}}}
]
}
